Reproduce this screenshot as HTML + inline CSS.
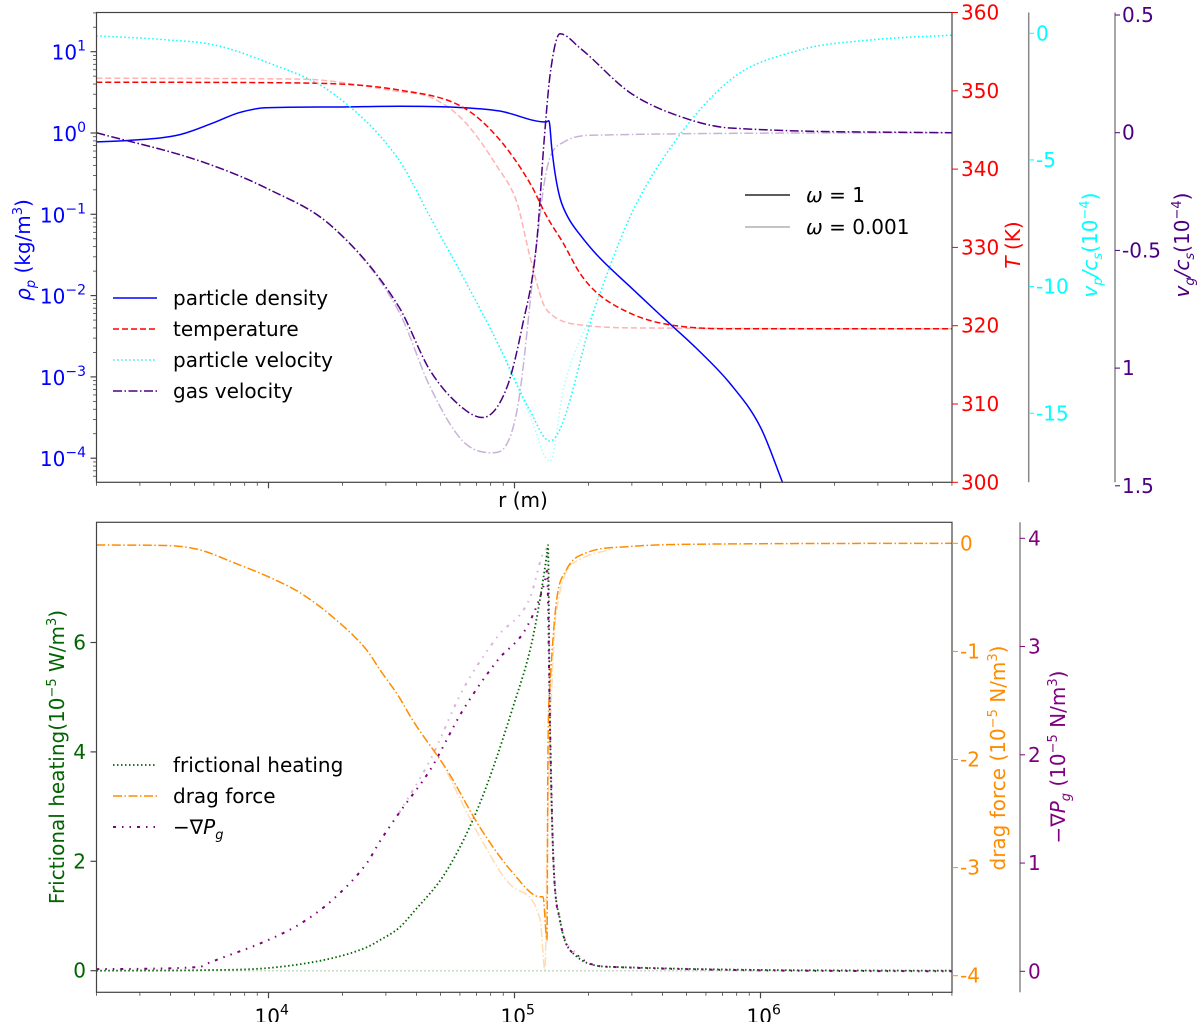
<!DOCTYPE html>
<html><head><meta charset="utf-8"><style>
html,body{margin:0;padding:0;background:#fff}
svg{display:block;font-family:"DejaVu Sans","Liberation Sans",sans-serif}
</style></head><body>
<svg id="chart" width="1200" height="1022" viewBox="0 0 1200 1022" xmlns="http://www.w3.org/2000/svg">
<defs>
<clipPath id="c1"><rect x="96.5" y="12.5" width="855.5" height="470"/></clipPath>
<clipPath id="c2"><rect x="96.5" y="522.3" width="855.5" height="470"/></clipPath>
</defs>
<g id="g"></g>
</svg>
<script>
// x data: log10(r)
const densR   = [3.30,3.44,3.64,3.78,3.88,3.99,4.26,4.53,4.74,4.94,5.128,5.14,5.152,5.165,5.185,5.22,5.266,5.335,5.47,5.60,5.74,5.876,6.0,6.09];
const densV   = [-0.11,-0.09,-0.02,0.13,0.25,0.31,0.32,0.33,0.32,0.27,0.135,0.15,-0.2,-0.5,-0.8,-1.05,-1.25,-1.5,-1.89,-2.26,-2.65,-3.08,-3.62,-4.3];
const tempR   = [3.30,4.13,4.53,4.79,4.93,5.063,5.132,5.197,5.266,5.335,5.47,5.60,5.876,6.78];
const tempV   = [351.1,351.0,350.1,347.9,344.1,338.2,333.9,330.6,326.7,324.2,321.6,320.3,319.6,319.6];
const tempLR  = [3.30,4.13,4.53,4.657,4.79,4.93,5.01,5.063,5.116,5.144,5.266,5.55,6.78];
const tempLV  = [351.6,351.5,349.9,349.2,346.3,340.3,335.7,328.8,322.9,321.6,320.1,319.7,319.6];
const vpR     = [3.30,3.59,3.78,3.99,4.26,4.53,4.657,4.79,4.93,5.063,5.144,5.335,5.47,5.60,5.876,6.16,6.45,6.78];
const vpV     = [-0.1,-0.26,-0.46,-1.13,-2.36,-5.0,-7.25,-9.6,-12.2,-14.9,-16.1,-10.6,-7.25,-5.0,-1.85,-0.66,-0.26,-0.07];
const vpLR    = [4.93,5.063,5.144,5.20,5.335];
const vpLV    = [-12.2,-15.1,-16.9,-14.0,-10.6];
const vgR     = [3.30,3.72,4.0,4.26,4.53,4.657,4.79,4.87,4.97,5.03,5.09,5.12,5.144,5.185,5.266,5.47,5.67,5.876,6.78];
const vgV     = [0,-0.12,-0.24,-0.40,-0.74,-1.01,-1.17,-1.21,-1.08,-0.83,-0.47,-0.04,0.24,0.42,0.36,0.17,0.07,0.02,0];
const vgLR    = [3.30,3.72,4.0,4.26,4.53,4.657,4.79,4.91,5.01,5.09,5.13,5.20,5.335,6.78];
const vgLV    = [0,-0.12,-0.24,-0.40,-0.76,-1.08,-1.31,-1.36,-1.18,-0.47,-0.16,-0.04,-0.01,0];
const fhR     = [3.30,3.72,4.0,4.26,4.40,4.453,4.53,4.587,4.726,4.86,4.994,5.075,5.132,5.136,5.144,5.157,5.185,5.238,5.40,6.78];
const fhV     = [0,0.01,0.05,0.23,0.43,0.56,0.78,1.06,1.84,3.07,4.82,6.1,7.63,7.78,4.58,2.15,0.93,0.32,0.07,0];
const fhLR    = [3.30,6.78];
const fhLV    = [0,0];
const dragR   = [3.30,3.58,3.72,3.86,4.0,4.13,4.26,4.40,4.453,4.53,4.587,4.726,4.86,4.994,5.104,5.116,5.132,5.136,5.144,5.17,5.21,5.29,5.47,5.67,6.78];
const dragV   = [-0.016,-0.02,-0.06,-0.18,-0.31,-0.46,-0.68,-0.99,-1.17,-1.42,-1.64,-2.1,-2.63,-3.05,-3.27,-3.27,-3.67,-1.9,-1.33,-0.55,-0.25,-0.09,-0.03,-0.01,0];
const dragLR  = [4.726,4.86,4.994,5.104,5.124,5.132,5.17,5.266,5.40];
const dragLV  = [-2.12,-2.72,-3.18,-3.48,-3.95,-2.87,-0.64,-0.15,-0.05];
const gpR     = [3.30,3.72,3.75,4.0,4.13,4.26,4.40,4.453,4.53,4.657,4.79,4.93,5.05,5.124,5.132,5.144,5.157,5.185,5.266,5.40,6.78];
const gpV     = [0.02,0.04,0.07,0.29,0.44,0.66,1.0,1.2,1.46,1.86,2.41,2.87,3.18,3.61,3.70,2.32,1.09,0.47,0.13,0.04,0];
const gpLR    = [4.53,4.657,4.79,4.93,5.063,5.116,5.132,5.144,5.157,5.185,5.266];
const gpLV    = [1.46,1.95,2.6,3.09,3.45,3.86,3.9,2.32,1.09,0.47,0.13];
const xTickLabels = ["4","5","6"];
const rhoTickExp = ["1","0","\u22121","\u22122","\u22123","\u22124"];
const tTicks  = [300,310,320,330,340,350,360];
const vpTicks = [0,-5,-10,-15];
const vgTicks = [0.5,0,-0.5,-1,-1.5];
const vgTickLabels = ["0.5","0","-0.5","1","1.5"];
const fhTicks = [0,2,4,6];
const dragTicks = [0,-1,-2,-3,-4];
const gpTicks = [0,1,2,3,4];

const NS="http://www.w3.org/2000/svg";
const G=document.getElementById('g');
function el(tag,attrs,parent){const e=document.createElementNS(NS,tag);for(const k in attrs)e.setAttribute(k,attrs[k]);(parent||G).appendChild(e);return e;}
const X=lr=>268.5+(lr-4)*246;
const Yrho=v=>51.7+(1-v)*81.3;
const YT=t=>482.3-(t-300)*7.83;
const Yvp=v=>33.3-v*25.33;
const Yvg=v=>132.7-v*235.4;
const Yfh=v=>970.7-v*54.7;
const Ydr=v=>543.3-v*108.1;
const Ygp=v=>971.3-v*108.25;

function smoothPath(px,py){
  const n=px.length;if(n<3){return 'M'+px[0]+','+py[0]+'L'+px[1]+','+py[1];}
  const d=[],m=[];
  for(let i=0;i<n-1;i++)d.push((py[i+1]-py[i])/(px[i+1]-px[i]));
  m[0]=d[0];m[n-1]=d[n-2];
  for(let i=1;i<n-1;i++){m[i]=(d[i-1]*d[i]<=0)?0:(d[i-1]+d[i])/2;}
  for(let i=0;i<n-1;i++){if(d[i]===0){m[i]=0;m[i+1]=0;continue;}
    const a=m[i]/d[i],b=m[i+1]/d[i],s=a*a+b*b;if(s>9){const t=3/Math.sqrt(s);m[i]=t*a*d[i];m[i+1]=t*b*d[i];}}
  let p='M'+px[0].toFixed(1)+','+py[0].toFixed(1);
  for(let i=0;i<n-1;i++){const h=(px[i+1]-px[i])/3;
    p+='C'+(px[i]+h).toFixed(1)+','+(py[i]+m[i]*h).toFixed(1)+' '+(px[i+1]-h).toFixed(1)+','+(py[i+1]-m[i+1]*h).toFixed(1)+' '+px[i+1].toFixed(1)+','+py[i+1].toFixed(1);}
  return p;
}
function series(xs,ys,yf,color,dash,w,op,clip){
  const px=xs.map(X),py=ys.map(yf);
  return el('path',{d:smoothPath(px,py),fill:'none',stroke:color,'stroke-width':w,'stroke-dasharray':dash,opacity:op,'clip-path':'url(#'+clip+')','stroke-linejoin':'round'});
}
function txt(x,y,s,attrs){const t=el('text',Object.assign({x:x,y:y,'font-size':20},attrs||{}));t.textContent=s;return t;}

const DASH='6,3', DOT='1.5,2.5', DD='9,2.5,1.5,2.5', DDD='3,6,1.5,6,1.5,6';
let p;
p=series(tempLR,tempLV,YT,'#ff0000',DASH,1.5,0.3,'c1');


p=series(vgLR,vgLV,Yvg,'#4b0082',DD,1.5,0.3,'c1');


p=series(vpLR,vpLV,Yvp,'#00ffff',DOT,1.5,0.35,'c1');


p=series(densR,densV,Yrho,'#0000ff','',1.5,1,'c1');


p=series(tempR,tempV,YT,'#ff0000',DASH,1.5,1,'c1');


p=series(vpR,vpV,Yvp,'#00ffff',DOT,1.5,1,'c1');


p=series(vgR,vgV,Yvg,'#4b0082',DD,1.5,1,'c1');


p=series(fhLR,fhLV,Yfh,'#006400',DOT,1.5,0.3,'c2');


p=series(dragLR,dragLV,Ydr,'#ff8c00',DD,1.5,0.3,'c2');


p=series(gpLR,gpLV,Ygp,'#800080',DDD,2,0.3,'c2');


p=series(fhR,fhV,Yfh,'#006400',DOT,1.8,1,'c2');


p=series(dragR,dragV,Ydr,'#ff8c00',DD,1.5,1,'c2');


p=series(gpR,gpV,Ygp,'#800080',DDD,2,1,'c2');



function frame(y0,y1,name){const r=el('rect',{x:96.5,y:y0,width:855.5,height:y1-y0,fill:'none',stroke:'#444','stroke-width':1.2});

}
frame(12.5,482.3,'top-axes-frame');frame(522.3,992.3,'bottom-axes-frame');
function xticks(yb,labels){
  for(let d=3;d<=6;d++)for(let m=1;m<=9;m++){const lr=d+Math.log10(m);if(lr<3.29||lr>6.79)continue;const x=X(lr);
    el('line',{x1:x,x2:x,y1:yb,y2:yb+(m===1?6:3.5),stroke:'#444','stroke-width':m===1?1.2:0.8});}
  if(labels){xTickLabels.forEach(e=>{const x=X(+e);const t=el('text',{x:x-14,y:yb+31,'font-size':20,fill:'#000'});
    
    
    t.innerHTML='10<tspan dy="-9" font-size="14">'+e+'</tspan>';});}
}
xticks(482.3,false);xticks(992.3,true);
for(let d=-5;d<=1;d++)for(let m=1;m<=9;m++){const v=d+Math.log10(m);if(v<-4.3||v>1.48)continue;const y=Yrho(v);
  el('line',{x1:96.5,x2:96.5-(m===1?6:3.5),y1:y,y2:y,stroke:'#444','stroke-width':m===1?1.2:0.8});}
rhoTickExp.forEach((e,i)=>{const y=Yrho(1-i);const t=el('text',{x:86,y:y+8,'font-size':20,fill:'#0000ff','text-anchor':'end'});
  
  
  t.innerHTML='10<tspan dy="-9" font-size="14">'+e+'</tspan><tspan dy="9" font-size="1"> </tspan>';});
tTicks.forEach(v=>{const y=YT(v);el('line',{x1:952,x2:958,y1:y,y2:y,stroke:'#ff0000','stroke-width':1});
  const t=txt(961,y+7,String(v),{fill:'#ff0000'});
  
  });
el('line',{x1:1028.7,x2:1028.7,y1:12.5,y2:482.3,stroke:'#888','stroke-width':1.5});
vpTicks.forEach(v=>{const y=Yvp(v);el('line',{x1:1028.7,x2:1034,y1:y,y2:y,stroke:'#00ffff','stroke-width':1});
  const t=txt(1036,y+7,String(v),{fill:'#00ffff'});
  
  });
el('line',{x1:1115,x2:1115,y1:12.5,y2:482.3,stroke:'#888','stroke-width':1.5});
vgTicks.forEach((v,i)=>{const y=Yvg(v);el('line',{x1:1115,x2:1120,y1:y,y2:y,stroke:'#4b0082','stroke-width':1});
  const t=txt(1122,y+7,vgTickLabels[i],{fill:'#4b0082'});
  
  });
fhTicks.forEach(v=>{const y=Yfh(v);el('line',{x1:96.5,x2:90.5,y1:y,y2:y,stroke:'#444','stroke-width':1.2});
  const t=txt(86,y+7,String(v),{fill:'#006400','text-anchor':'end'});
  
  });
dragTicks.forEach(v=>{const y=Ydr(v);el('line',{x1:952,x2:958,y1:y,y2:y,stroke:'#ff8c00','stroke-width':1});
  const t=txt(960,y+7,String(v),{fill:'#ff8c00'});
  
  });
el('line',{x1:1020,x2:1020,y1:522.3,y2:992.3,stroke:'#888','stroke-width':1.5});
gpTicks.forEach(v=>{const y=Ygp(v);el('line',{x1:1020,x2:1025,y1:y,y2:y,stroke:'#800080','stroke-width':1});
  const t=txt(1028,y+7,String(v),{fill:'#800080'});
  
  });
</script>
<svg width="1200" height="1022" style="position:absolute;left:0;top:0" xmlns="http://www.w3.org/2000/svg" font-family="DejaVu Sans, Liberation Sans, sans-serif">
<text x="523" y="507" font-size="20" text-anchor="middle">r (m)</text>
<text transform="translate(30,250) rotate(-90)" font-size="20" fill="#0000ff" text-anchor="middle"><tspan font-style="italic">ρ</tspan><tspan font-size="13" dy="5" font-style="italic">p</tspan><tspan dy="-5"> (kg/m</tspan><tspan font-size="13" dy="-8">3</tspan><tspan dy="8">)</tspan></text>
<text transform="translate(1020,245) rotate(-90)" font-size="20" fill="#ff0000" text-anchor="middle"><tspan font-style="italic">T</tspan> (K)</text>
<text transform="translate(1097,245) rotate(-90)" font-size="20" fill="#00ffff" text-anchor="middle"><tspan font-style="italic">v</tspan><tspan font-size="13" dy="5" font-style="italic">p</tspan><tspan dy="-5" font-style="italic">/c</tspan><tspan font-size="13" dy="5" font-style="italic">s</tspan><tspan dy="-5">(10</tspan><tspan font-size="13" dy="-8">−4</tspan><tspan dy="8">)</tspan></text>
<text transform="translate(1189,245) rotate(-90)" font-size="20" fill="#4b0082" text-anchor="middle"><tspan font-style="italic">v</tspan><tspan font-size="13" dy="5" font-style="italic">g</tspan><tspan dy="-5" font-style="italic">/c</tspan><tspan font-size="13" dy="5" font-style="italic">s</tspan><tspan dy="-5">(10</tspan><tspan font-size="13" dy="-8">−4</tspan><tspan dy="8">)</tspan></text>
<text transform="translate(64,757) rotate(-90)" font-size="20" fill="#006400" text-anchor="middle">Frictional heating(10<tspan font-size="13" dy="-8">−5</tspan><tspan dy="8"> W/m</tspan><tspan font-size="13" dy="-8">3</tspan><tspan dy="8">)</tspan></text>
<text transform="translate(1005,758) rotate(-90)" font-size="20" fill="#ff8c00" text-anchor="middle">drag force (10<tspan font-size="13" dy="-8">−5</tspan><tspan dy="8"> N/m</tspan><tspan font-size="13" dy="-8">3</tspan><tspan dy="8">)</tspan></text>
<text transform="translate(1065,757) rotate(-90)" font-size="20" fill="#800080" text-anchor="middle">−∇<tspan font-style="italic">P</tspan><tspan font-size="13" dy="5" font-style="italic">g</tspan><tspan dy="-5"> (10</tspan><tspan font-size="13" dy="-8">−5</tspan><tspan dy="8"> N/m</tspan><tspan font-size="13" dy="-8">3</tspan><tspan dy="8">)</tspan></text>
<g font-size="20">
<g><line x1="113" x2="157" y1="298" y2="298" stroke="#0000ff" stroke-width="1.5"/><text x="173" y="305">particle density</text></g>
<g><line x1="113" x2="157" y1="329" y2="329" stroke="#ff0000" stroke-width="1.5" stroke-dasharray="6,3"/><text x="173" y="336">temperature</text></g>
<g><line x1="113" x2="157" y1="360" y2="360" stroke="#00ffff" stroke-width="1.5" stroke-dasharray="1.5,2.5"/><text x="173" y="367">particle velocity</text></g>
<g><line x1="113" x2="157" y1="391" y2="391" stroke="#4b0082" stroke-width="1.5" stroke-dasharray="9,2.5,1.5,2.5"/><text x="173" y="398">gas velocity</text></g>
</g>
<g font-size="20">
<g><line x1="745" x2="790" y1="195" y2="195" stroke="#444" stroke-width="1.8"/><text x="806" y="202"><tspan font-style="italic">ω</tspan> = 1</text></g>
<g><line x1="745" x2="790" y1="227" y2="227" stroke="#bbb" stroke-width="1.8"/><text x="806" y="234"><tspan font-style="italic">ω</tspan> = 0.001</text></g>
</g>
<g font-size="20">
<g><line x1="113" x2="157" y1="765" y2="765" stroke="#006400" stroke-width="1.8" stroke-dasharray="1.5,2.5"/><text x="173" y="772">frictional heating</text></g>
<g><line x1="113" x2="157" y1="796" y2="796" stroke="#ff8c00" stroke-width="1.5" stroke-dasharray="9,2.5,1.5,2.5"/><text x="173" y="803">drag force</text></g>
<g><line x1="113" x2="157" y1="827" y2="827" stroke="#800080" stroke-width="2" stroke-dasharray="3,6,1.5,6,1.5,6"/><text x="173" y="834">−∇<tspan font-style="italic">P</tspan><tspan font-size="13" dy="5" font-style="italic">g</tspan></text></g>
</g>
</svg>
</body></html>
